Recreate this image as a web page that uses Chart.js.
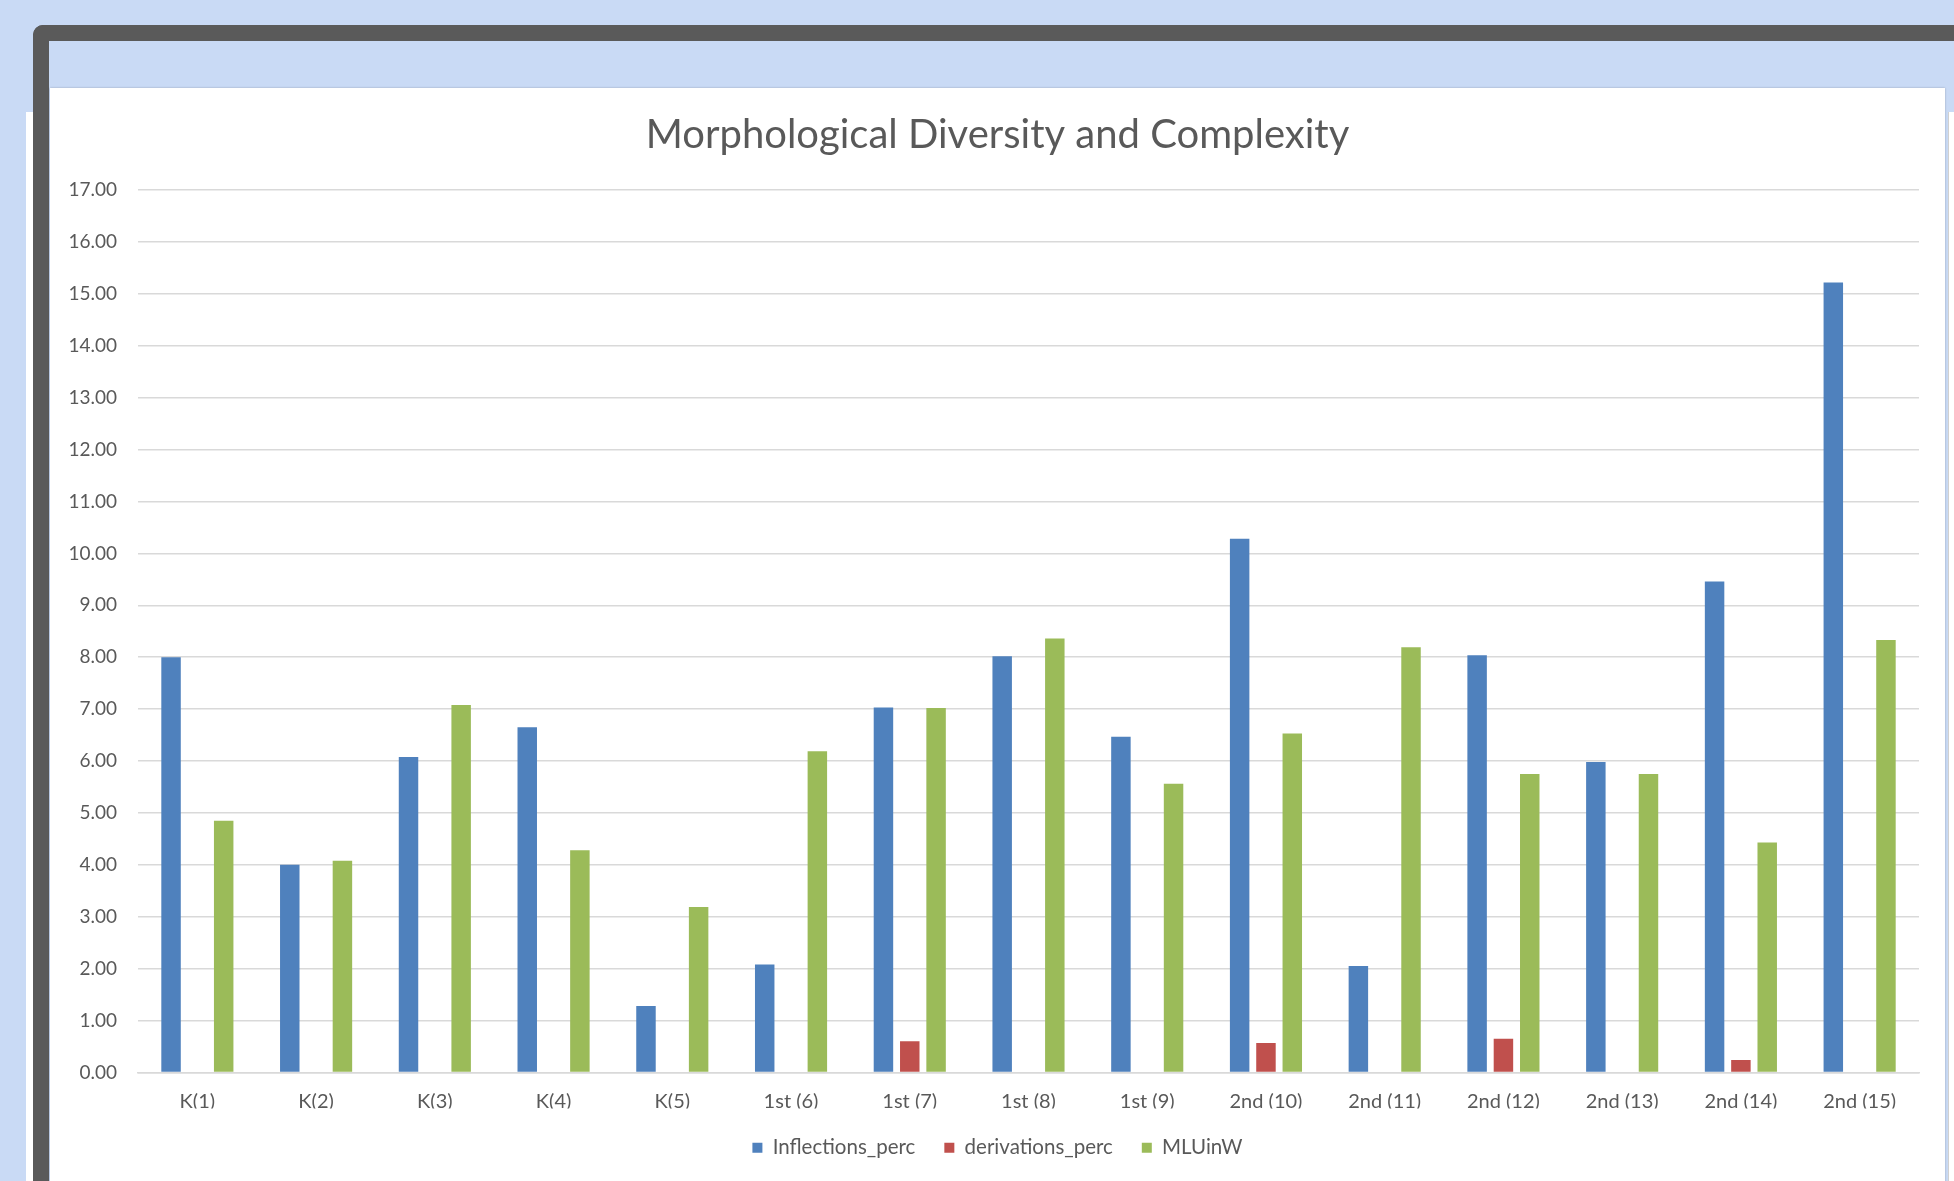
<!DOCTYPE html>
<html>
<head>
<meta charset="utf-8">
<script src="https://cdn.jsdelivr.net/npm/chart.js@4/dist/chart.umd.min.js"></script>
<style>
    html, body {
        margin: 0;
        padding: 0;
        width: 1954px;
        height: 1181px;
        overflow: hidden;
        background: #c9daf5;
    }
    .side-strip {
        position: absolute;
        left: 26px;
        top: 112px;
        width: 7px;
        height: 1100px;
        background: #ffffff;
    }
    .frame {
        position: absolute;
        left: 33px;
        top: 25px;
        width: 1960px;
        height: 1200px;
        border-left: 16px solid #5a5a5a;
        border-top: 16px solid #5a5a5a;
        border-top-left-radius: 10px;
        background: #c9daf5;
    }
    .panel {
        position: absolute;
        left: 50px;
        top: 88px;
        width: 1895px;
        height: 1120px;
        background: #ffffff;
        box-shadow: 0 0 2px rgba(0, 0, 0, 0.25);
    }
    .right-strip {
        position: absolute;
        left: 1948px;
        top: 112px;
        width: 6px;
        height: 1100px;
        background: #ffffff;
        border-left: 1px solid #d0d0d0;
    }
    #chart-wrap {
        position: absolute;
        left: 0;
        top: 0;
        width: 1895px;
        height: 1120px;
    }
</style>
</head>
<body>
<div class="side-strip"></div>
<div class="frame"></div>
<div class="right-strip"></div>
<div class="panel">
    <div id="chart-wrap"><canvas id="morph-chart"></canvas></div>
</div>
<script>
    // values
    const categories = ['K(1)', 'K(2)', 'K(3)', 'K(4)', 'K(5)',
        '1st (6)', '1st (7)', '1st (8)', '1st (9)',
        '2nd (10)', '2nd (11)', '2nd (12)', '2nd (13)', '2nd (14)', '2nd (15)'];

    const inflectionsPerc = [8.00, 4.00, 6.08, 6.65, 1.28, 2.08, 7.03, 8.02, 6.47, 10.28, 2.05, 8.04, 5.98, 9.46, 15.22];
    const derivationsPerc = [0, 0, 0, 0, 0, 0, 0.60, 0, 0, 0.57, 0, 0.65, 0, 0.24, 0];
    const mluInW = [4.85, 4.08, 7.08, 4.28, 3.19, 6.19, 7.02, 8.36, 5.56, 6.53, 8.19, 5.75, 5.75, 4.43, 8.33];

    const yMin = 0;
    const yMax = 17;
    const yStep = 1;

    const FONT = 'Lato, "Open Sans", sans-serif';
    const TEXT = '#595959';

    class MorphChart {
        constructor(canvasId) {
            this.ctx = document.getElementById(canvasId).getContext('2d');
            this.chart = null;
            this.init();
        }

        init() {
            Chart.defaults.font.family = FONT;
            Chart.defaults.color = TEXT;
            this.chart = new Chart(this.ctx, {
                type: 'bar',
                data: {
                    labels: categories,
                    datasets: [
                        this.series('Inflections_perc', inflectionsPerc, '#4f81bd'),
                        this.series('derivations_perc', derivationsPerc, '#c0504d'),
                        this.series('MLUinW', mluInW, '#9bbb59')
                    ]
                },
                options: {
                    responsive: true,
                    maintainAspectRatio: false,
                    animation: false,
                    layout: {
                        padding: { left: 0, right: 0, top: 0, bottom: 40 }
                    },
                    plugins: {
                        title: {
                            display: true,
                            text: 'Morphological Diversity and Complexity',
                            color: TEXT,
                            font: { size: 40, weight: 'normal' },
                            padding: { top: 23, bottom: 31 }
                        },
                        legend: {
                            position: 'bottom',
                            labels: {
                                boxWidth: 10,
                                boxHeight: 10,
                                padding: 29,
                                color: TEXT,
                                font: { size: 20.5 }
                            }
                        },
                        tooltip: { enabled: false }
                    },
                    scales: {
                        x: {
                            grid: { display: false, drawTicks: false },
                            border: { color: '#d9d9d9', width: 1.5 },
                            ticks: {
                                padding: 17,
                                color: TEXT,
                                font: { size: 20 },
                                maxRotation: 0
                            },
                            afterFit: (scale) => { scale.height = 36; }
                        },
                        y: {
                            min: yMin,
                            max: yMax,
                            grid: { color: '#d9d9d9', lineWidth: 1.5, drawTicks: false },
                            border: { display: false },
                            ticks: {
                                stepSize: yStep,
                                padding: 21,
                                color: TEXT,
                                font: { size: 19 },
                                callback: (v) => Number(v).toFixed(2)
                            },
                            afterFit: (scale) => { scale.width = 88; }
                        },
                        // empty right axis, only keeps the plot clear of the panel edge
                        yRight: {
                            position: 'right',
                            grid: { display: false, drawTicks: false },
                            border: { display: false },
                            ticks: { display: false },
                            afterFit: (scale) => { scale.width = 26; }
                        }
                    }
                }
            });
        }

        series(label, values, color) {
            return {
                label: label,
                data: values,
                backgroundColor: color,
                borderWidth: 0,
                categoryPercentage: 0.665,
                barPercentage: 0.74
            };
        }
    }

    window.morphChart = new MorphChart('morph-chart');
</script>
</body>
</html>
